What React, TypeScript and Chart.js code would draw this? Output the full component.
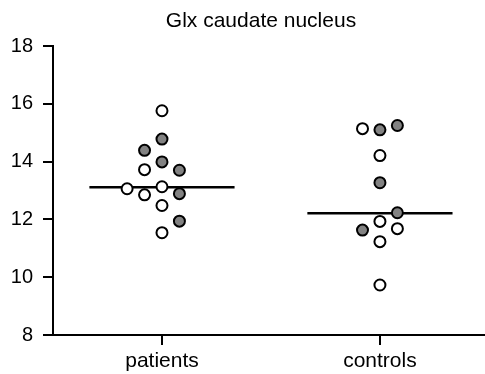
import React, { useEffect, useRef } from "react";
import { Chart, registerables } from "chart.js";

Chart.register(...registerables);

const title = "Glx caudate nucleus";
const categories = ["patients", "controls"];
const yTicks = [8, 10, 12, 14, 16, 18];

// patients group
const patientValues = [15.76, 14.78, 14.39, 13.99, 13.72, 13.7, 13.06, 13.13, 12.85, 12.89, 12.48, 11.94, 11.54];
const patientFilled = [false, true, true, true, false, true, false, false, false, true, false, true, false];
const patientLane = [0, 0, -1, 0, -1, 1, -2, 0, -1, 1, 0, 1, 0];
const patientMean = 13.11;

// controls group
const controlValues = [15.14, 15.1, 15.25, 14.21, 13.27, 12.23, 11.93, 11.63, 11.68, 11.23, 9.73];
const controlFilled = [false, true, true, false, true, true, false, true, false, false, false];
const controlLane = [-1, 0, 1, 0, 0, 1, 0, -1, 1, 0, 0];
const controlMean = 12.21;

const LANE = 0.08;
const HALF = 0.333;

function pts(cat: number, vals: number[], filled: boolean[], lanes: number[], want: boolean) {
  return vals
    .map((v, i) => ({ x: cat + lanes[i] * LANE, y: v, f: filled[i] }))
    .filter((p) => p.f === want)
    .map((p) => ({ x: p.x, y: p.y }));
}

const FONT = "'Liberation Sans', Arial, sans-serif";

export default function App() {
  const ref = useRef<HTMLCanvasElement | null>(null);
  useEffect(() => {
    if (!ref.current) return;
    const pointStyle = (fill: string) => ({
      pointRadius: 5.5,
      pointHoverRadius: 5.5,
      pointBackgroundColor: fill,
      pointBorderColor: "#000",
      pointBorderWidth: 2,
      backgroundColor: fill,
      borderColor: "#000",
      showLine: false,
      order: 1,
    });
    const titlePlugin = {
      id: "titleDraw",
      afterDraw(chart: any) {
        const ctx = chart.ctx;
        ctx.save();
        ctx.fillStyle = "#000";
        ctx.font = `21px ${FONT}`;
        ctx.textAlign = "center";
        ctx.textBaseline = "middle";
        ctx.fillText(title, 261, 21);
        ctx.restore();
      },
    };
    const chart = new Chart(ref.current, {
      type: "scatter",
      data: {
        datasets: [
          { data: [{ x: -HALF, y: patientMean }, { x: HALF, y: patientMean }], type: "line" as any, borderColor: "#000", borderWidth: 2.5, pointRadius: 0, showLine: true, order: 10 } as any,
          { data: [{ x: 1 - HALF, y: controlMean }, { x: 1 + HALF, y: controlMean }], type: "line" as any, borderColor: "#000", borderWidth: 2.5, pointRadius: 0, showLine: true, order: 10 } as any,
          { data: pts(0, patientValues, patientFilled, patientLane, false), ...pointStyle("#ffffff") } as any,
          { data: pts(0, patientValues, patientFilled, patientLane, true), ...pointStyle("#828282") } as any,
          { data: pts(1, controlValues, controlFilled, controlLane, false), ...pointStyle("#ffffff") } as any,
          { data: pts(1, controlValues, controlFilled, controlLane, true), ...pointStyle("#828282") } as any,
        ],
      },
      plugins: [titlePlugin],
      options: {
        animation: false,
        responsive: false,
        maintainAspectRatio: false,
        layout: { autoPadding: false, padding: { top: 46, right: 0, bottom: 0, left: 0 } },
        plugins: { legend: { display: false }, tooltip: { enabled: false }, title: { display: false } },
        scales: {
          x: {
            type: "linear",
            min: -0.5,
            max: 1.482,
            afterBuildTicks: (s: any) => {
              s.ticks = categories.map((_, i) => ({ value: i }));
            },
            afterFit: (s: any) => {
              s.height = 39;
            },
            ticks: {
              callback: (v: any) => categories[Math.round(Number(v))] ?? "",
              color: "#000",
              font: { size: 21, family: FONT },
              padding: 4,
              maxRotation: 0,
            },
            grid: { display: true, drawOnChartArea: false, drawTicks: true, tickLength: 10, color: "#000", lineWidth: 2 },
            border: { display: true, color: "#000", width: 2 },
          },
          y: {
            type: "linear",
            min: 8,
            max: 18,
            afterBuildTicks: (s: any) => {
              s.ticks = yTicks.map((v) => ({ value: v }));
            },
            afterFit: (s: any) => {
              s.width = 53;
            },
            ticks: { color: "#000", font: { size: 20, family: FONT }, padding: 10 },
            grid: { display: true, drawOnChartArea: false, drawTicks: true, tickLength: 10, color: "#000", lineWidth: 2 },
            border: { display: true, color: "#000", width: 2 },
          },
        },
      },
    });
    return () => chart.destroy();
  }, []);
  return (
    <div style={{ position: "fixed", left: 0, top: 0, width: 485, height: 374, background: "#fff" }}>
      <canvas ref={ref} width={485} height={374} style={{ width: 485, height: 374, display: "block" }} />
    </div>
  );
}
